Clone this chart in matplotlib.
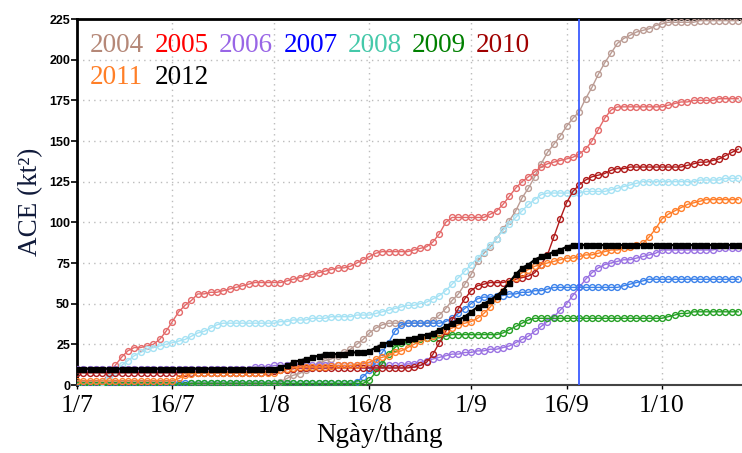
import matplotlib
matplotlib.use("Agg")
import matplotlib.pyplot as plt
from datetime import date

# ---------- data: cumulative ACE (kt^2), one value per day from 1/7 ----------
ace_2004 = [0, 0, 0, 0, 0, 0, 0, 0, 0, 0,
            0, 0, 0, 0, 0, 0, 0, 0, 0, 0,
            0, 0, 0, 0, 0, 0, 0, 0, 0, 0,
            0, 0, 2, 4, 6, 7, 9, 11, 13, 15,
            16, 18, 20, 22, 25, 28, 32, 35, 37, 38,
            38, 38, 38, 38, 38, 38, 40, 43, 47, 52,
            56, 62, 68, 76, 81, 85, 90, 96, 101, 107,
            115, 121, 128, 136, 143, 148, 153, 159, 164, 168,
            176, 183, 191, 198, 204, 210, 213, 215, 217, 218,
            219, 221, 222, 223, 223, 223, 223, 223, 224, 224,
            224, 224, 224, 224, 224]
ace_2005 = [0, 0, 0, 0, 2, 7, 12, 17, 21, 23,
            23, 24, 25, 28, 33, 39, 45, 49, 52, 56,
            56, 57, 57, 58, 59, 60, 61, 62, 63, 63,
            63, 63, 63, 64, 65, 66, 67, 68, 69, 70,
            71, 72, 72, 73, 75, 77, 79, 81, 82, 82,
            82, 82, 82, 83, 84, 85, 88, 93, 100, 103,
            103, 103, 103, 103, 103, 105, 107, 111, 116, 121,
            125, 128, 131, 134, 136, 137, 138, 139, 140, 142,
            145, 150, 157, 164, 169, 171, 171, 171, 171, 171,
            171, 171, 171, 172, 173, 174, 174, 175, 175, 175,
            175, 176, 176, 176, 176]
ace_2006 = [10, 10, 10, 10, 10, 10, 10, 10, 10, 10,
            10, 10, 10, 10, 10, 10, 10, 10, 10, 10,
            10, 10, 10, 10, 10, 10, 10, 10, 11, 11,
            11, 12, 12, 12, 12, 12, 12, 12, 12, 12,
            12, 12, 12, 12, 12, 12, 12, 12, 12, 12,
            12, 12, 13, 13, 14, 15, 16, 17, 18, 19,
            19, 20, 20, 21, 21, 22, 22, 23, 24, 26,
            28, 30, 33, 36, 39, 42, 46, 50, 55, 60,
            65, 69, 72, 74, 75, 76, 77, 77, 78, 79,
            80, 81, 83, 83, 83, 83, 83, 83, 83, 83,
            83, 84, 84, 84, 84]
ace_2007 = [1, 1, 1, 1, 1, 1, 1, 1, 1, 1,
            1, 1, 1, 1, 1, 1, 1, 1, 1, 1,
            1, 1, 1, 1, 1, 1, 1, 1, 1, 1,
            1, 1, 1, 1, 1, 1, 1, 1, 1, 1,
            1, 1, 1, 1, 2, 5, 9, 14, 20, 26,
            33, 37, 38, 38, 38, 38, 38, 38, 39, 41,
            44, 47, 50, 53, 54, 54, 55, 55, 56, 56,
            57, 57, 58, 58, 59, 60, 60, 60, 60, 60,
            60, 60, 60, 60, 60, 60, 61, 62, 63, 64,
            65, 65, 65, 65, 65, 65, 65, 65, 65, 65,
            65, 65, 65, 65, 65]
ace_2008 = [0, 0, 0, 0, 2, 5, 8, 12, 15, 18,
            20, 22, 23, 24, 25, 26, 27, 28, 30, 32,
            33, 35, 37, 38, 38, 38, 38, 38, 38, 38,
            38, 38, 39, 39, 40, 40, 40, 41, 41, 41,
            42, 42, 42, 42, 43, 43, 43, 44, 45, 46,
            47, 48, 49, 49, 50, 51, 53, 55, 58, 62,
            66, 70, 74, 78, 82, 86, 90, 95, 99, 103,
            107, 111, 114, 117, 118, 118, 118, 118, 118, 118,
            119, 119, 119, 119, 120, 121, 122, 123, 124, 125,
            125, 125, 125, 125, 125, 125, 125, 125, 126, 126,
            126, 126, 127, 127, 127]
ace_2009 = [0, 0, 0, 0, 0, 0, 0, 0, 0, 0,
            0, 0, 0, 0, 0, 0, 0, 0, 1, 1,
            1, 1, 1, 1, 1, 1, 1, 1, 1, 1,
            1, 1, 1, 1, 1, 1, 1, 1, 1, 1,
            1, 1, 1, 1, 1, 1, 3, 8, 13, 19,
            23, 26, 27, 28, 28, 29, 29, 29, 30, 31,
            31, 31, 31, 31, 31, 31, 31, 32, 34, 36,
            38, 40, 41, 41, 41, 41, 41, 41, 41, 41,
            41, 41, 41, 41, 41, 41, 41, 41, 41, 41,
            41, 41, 41, 42, 43, 44, 44, 45, 45, 45,
            45, 45, 45, 45, 45]
ace_2010 = [7.5, 7.5, 7.5, 7.5, 7.5, 7.5, 7.5, 7.5, 7.5, 7.5,
            7.5, 7.5, 7.5, 7.5, 7.5, 7.5, 7.5, 7.5, 7.5, 7.5,
            7.5, 7.5, 7.5, 7.5, 7.5, 7.5, 7.5, 7.5, 7.5, 7.5,
            8, 8.5, 9, 9.5, 10, 10.5, 10.5, 10.5, 10.5, 10.5,
            10.5, 10.5, 10.5, 10.5, 10.5, 10.5, 10.5, 10.5, 10.5, 10.5,
            10.5, 10.5, 10.5, 11, 12, 14, 19, 26, 33, 40,
            47, 53, 58, 61, 62, 63, 63, 63, 64, 65,
            66, 67, 69, 74, 80, 91, 102, 112, 119, 123,
            126, 128, 129, 130, 132, 133, 133, 134, 134, 134,
            134, 134, 134, 134, 134, 134, 135, 136, 137, 137,
            138, 139, 141, 143, 145]
ace_2011 = [2.5, 2.5, 2.5, 2.5, 2.5, 2.5, 2.5, 2.5, 2.5, 2.5,
            2.5, 2.5, 2.5, 2.5, 2.5, 2.5, 4, 6, 7, 7.5,
            7.5, 7.5, 7.5, 7.5, 7.5, 7.5, 7.5, 7.5, 7.5, 7.5,
            7.5, 7.5, 9, 10, 10.5, 11, 11, 11, 11, 11,
            11.5, 12, 12, 12, 12.5, 13, 14, 16, 17, 18,
            20, 21, 23, 25, 27, 29, 30, 32, 34, 35,
            37, 38, 39, 41, 44, 48, 53, 58, 63, 66,
            69, 71, 73, 74, 75, 76, 77, 78, 78, 79,
            80, 80, 81, 82, 83, 83, 84, 85, 86, 87,
            91, 96, 102, 105, 107, 109, 111, 112, 113, 114,
            114, 114, 114, 114, 114]
ace_2012 = [10, 10, 10, 10, 10, 10, 10, 10, 10, 10,
            10, 10, 10, 10, 10, 10, 10, 10, 10, 10,
            10, 10, 10, 10, 10, 10, 10, 10, 10, 10,
            10, 10, 11, 12, 14, 15, 16, 17, 18, 19,
            19, 19, 19, 20, 20, 20, 21, 23, 25, 26,
            27, 27, 28, 29, 30, 31, 32, 34, 36, 38,
            40, 42, 45, 48, 50, 52, 55, 58, 63, 68,
            72, 74, 77, 79, 80, 82, 83, 85, 86, 86,
            86, 86, 86, 86, 86, 86, 86, 86, 86, 86,
            86, 86, 86, 86, 86, 86, 86, 86, 86, 86,
            86, 86, 86, 86, 86]

years = ["2004", "2005", "2006", "2007", "2008", "2009", "2010", "2011", "2012"]
series = [ace_2004, ace_2005, ace_2006, ace_2007, ace_2008,
          ace_2009, ace_2010, ace_2011, ace_2012]
tick_labels = ["1/7", "16/7", "1/8", "16/8", "1/9", "16/9", "1/10"]
y_ticks = [0, 25, 50, 75, 100, 125, 150, 175, 200, 225]
marker_date = "18/9"

# ---------- styles ----------
line_colors = ["#bb9c94", "#e46a6a", "#9a72e2", "#3c82ea", "#a6e2f4",
               "#25a025", "#b01a1a", "#ff7f2a", "#000000"]
text_colors = ["#b58878", "#ff0000", "#9966e6", "#0000ff", "#45c9aa",
               "#008000", "#a00000", "#ff7f27", "#000000"]
serif = "Liberation Serif"

start = date(2000, 7, 1)


def day_of(label):
    d, m = map(int, label.split("/"))
    return (date(2000, m, d) - start).days


fig = plt.figure(figsize=(7.42, 4.53), dpi=100)
fig.patch.set_facecolor("white")
ax = fig.add_axes([77 / 742, 1 - 385 / 453, 1 - 77 / 742, 366 / 453])

# ---------- grid ----------
for yv in y_ticks[1:-1]:
    ax.axhline(yv, color="#bcbcbc", lw=1, ls=(0, (1, 3)), zorder=0)
for lab in tick_labels[1:]:
    ax.axvline(day_of(lab), color="#bcbcbc", lw=1, ls=(0, (1, 3)), zorder=0)

# ---------- series ----------
for i, (yr, vals) in enumerate(zip(years, series)):
    days = list(range(len(vals)))
    if yr == "2012":
        ax.plot(days, vals, color="black", lw=1.6, marker="s", ms=3.6,
                mfc="black", mec="black", zorder=10)
    else:
        ax.plot(days, vals, color=line_colors[i], lw=1.0, marker="o", ms=4.2,
                mfc="none", mew=1.0, zorder=3 + i * 0.1)

ax.axvline(day_of(marker_date), color="#3b5cff", lw=1.3, zorder=12)

# ---------- axes ----------
ax.set_xlim(0, 104.6)
ax.set_ylim(0, 225)
ax.set_yticks(y_ticks)
ax.set_yticklabels([str(v) for v in y_ticks], fontfamily="Liberation Sans",
                   fontsize=9, fontweight="bold")
ax.set_xticks([day_of(t) for t in tick_labels])
ax.set_xticklabels(tick_labels, fontfamily=serif, fontsize=18.5)
ax.tick_params(axis="y", length=4, width=1.2, pad=1)
ax.tick_params(axis="x", length=3, width=1.0, pad=4)

for side in ["left", "top"]:
    ax.spines[side].set_linewidth(2.0)
    ax.spines[side].set_color("black")
ax.spines["bottom"].set_linewidth(1.5)
ax.spines["bottom"].set_color("#444444")
ax.spines["right"].set_visible(False)

ax.set_ylabel("ACE (kt²)", fontfamily=serif, fontsize=19.5, color="#101a3a",
              labelpad=4)
ax.set_xlabel("Ngày/tháng", fontfamily=serif, fontsize=19.5)
ax.xaxis.set_label_coords((380 - 77) / 665, -0.105)

# ---------- coloured year labels ----------
row1_x = [90, 155, 219, 284, 348, 412, 476]
row2_x = [90, 155]
for i, yr in enumerate(years):
    if i < 7:
        px, py = row1_x[i], 45
    else:
        px, py = row2_x[i - 7], 77
    ax.text((px - 77) / 665, (385 - py) / 366, yr, transform=ax.transAxes,
            fontfamily=serif, fontsize=19.5, color=text_colors[i],
            ha="left", va="center", zorder=15)

fig.savefig("out.png", dpi=100, facecolor="white")
